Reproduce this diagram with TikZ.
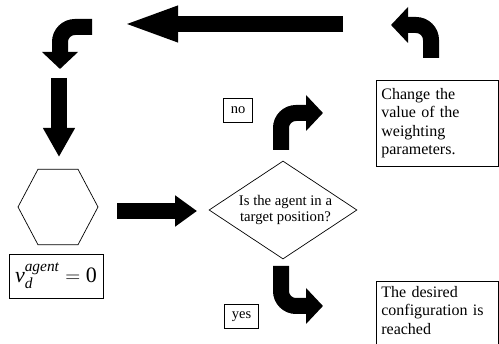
\documentclass[tikz,border=0pt]{standalone}
\usepackage{amsmath}
\usepackage{fontspec}
\setmainfont{Liberation Serif}
\usetikzlibrary{shapes,arrows.meta,positioning}

\tikzset{
  blockarrow/.style 2 args={line width=16pt,-{Triangle[length=#1,width=#2]}},
  bentarrow/.style={line width=16pt,rounded corners=15pt,-{Triangle[length=17pt,width=35pt]}},
  textbox/.style={draw,line width=0.7pt,font=\fontsize{16}{18.5}\selectfont,text width=112pt,align=left,inner sep=5pt},
  tagbox/.style={draw,line width=0.7pt,font=\fontsize{14.5}{16}\selectfont,inner xsep=7pt,minimum height=24pt}
}

\begin{document}
\begin{tikzpicture}[x=1pt,y=-1pt]
    \useasboundingbox (0,0) rectangle (499,344);

    % back to the start
    \coordinate (backS) at (343,24);
    \coordinate (backE) at (122,24);
    \draw[blockarrow={56pt}{32pt}] (backS) -- (backE);
    \coordinate (turnS) at (92,27);
    \coordinate (turnE) at (60,69);
    \draw[bentarrow] (turnS) -| (turnE);
    \coordinate (downS) at (59,78);
    \coordinate (downE) at (59,157);
    \draw[blockarrow={29pt}{30pt}] (downS) -- (downE);

    % agent
    \node[regular polygon,regular polygon sides=6,draw,line width=0.7pt,minimum size=80pt,yscale=1.09,transform shape] (agent) at (58,207) {};
    \node[draw,line width=0.7pt,minimum width=94pt,minimum height=44pt,font=\fontsize{22}{24}\selectfont] (speed) at (56,276) {$\textit{v}_{\textit{d}}^{\textit{agent}}=\text{0}$};

    \coordinate (goS) at (117,211);
    \coordinate (goE) at (197,211);
    \draw[blockarrow={22pt}{30pt}] (goS) -- (goE);

    % test
    \node[diamond,draw,line width=0.7pt,aspect=1.5,minimum width=148pt,minimum height=98pt,inner sep=0pt,font=\fontsize{14.7}{15.5}\selectfont,align=center] (check) at (283,210) {\hspace*{5pt}Is the agent in a\\\hspace*{5pt}target position?};

    % no
    \node[tagbox] (no) at (238,110.5) {no};
    \coordinate (noS) at (281,150);
    \coordinate (noE) at (323,113);
    \draw[bentarrow] (noS) |- (noE);
    \node[textbox,anchor=north west,minimum height=86pt] (change) at (376,80) {Change the\\value of the\\weighting\\parameters.};
    \coordinate (retryS) at (431,58);
    \coordinate (retryE) at (391,25);
    \draw[bentarrow] (retryS) |- (retryE);

    % yes
    \node[tagbox] (yes) at (241.5,316.5) {yes};
    \coordinate (yesS) at (281,266);
    \coordinate (yesE) at (323,306);
    \draw[bentarrow] (yesS) |- (yesE);
    \node[textbox,draw=none,anchor=north west] (desired) at (376,281) {The desired\\configuration is\\reached};
    \draw[line width=0.7pt] ([yshift=-10pt]desired.south west) |- (desired.north east) -- ([yshift=-10pt]desired.south east);
\end{tikzpicture}
\end{document}
